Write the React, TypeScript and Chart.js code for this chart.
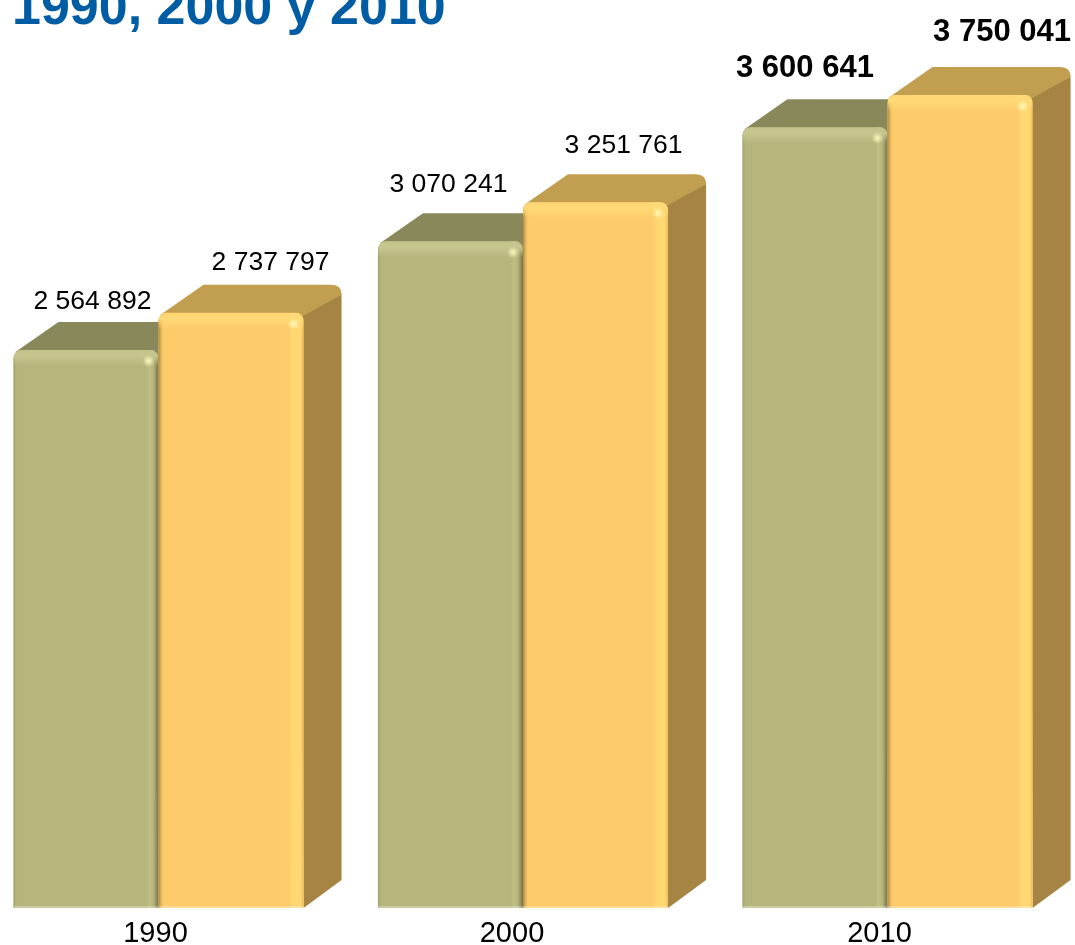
import React, { useEffect, useRef } from "react";
import { Chart, registerables } from "chart.js";

Chart.register(...registerables);

const titleText = "1990, 2000 y 2010";
const categories = ["1990", "2000", "2010"];
const seriesA = [2564892, 3070241, 3600641];
const seriesB = [2737797, 3251761, 3750041];

const yMin = -27900;
const yMax = 4191450;
const FONT = '"Liberation Sans", Arial, sans-serif';
const DEPTH_X = 38;
const DEPTH_Y = 28;

// Label nudges relative to each bar's centre and top
const labelNudgeA = [[6.5, -48], [-2, -57], [-10, -59]];
const labelNudgeB = [[39.5, -50], [28, -57], [42, -63]];
const tickShift = [-3, -11, -8];

const skinA = { front: "#B5B57C", top: "#88885A", side: "#88885A" };
const skinB = { front: "#FDCB6A", top: "#C29E50", side: "#A58444" };
const skins = [skinA, skinB];

const fmt = (v: number) => String(v).replace(/\B(?=(\d{3})+(?!\d))/g, " ");

function draw3D(ctx: CanvasRenderingContext2D, b: any, skin: any) {
  const l = b.x - b.width / 2;
  const r = b.x + b.width / 2;
  const t = b.y;
  const bot = b.base;
  ctx.fillStyle = skin.side;
  ctx.beginPath();
  ctx.moveTo(r - 2, t + 4);
  ctx.lineTo(r + DEPTH_X - 8, t - DEPTH_Y + 2);
  ctx.quadraticCurveTo(r + DEPTH_X, t - DEPTH_Y + 3, r + DEPTH_X, t - DEPTH_Y + 12);
  ctx.lineTo(r + DEPTH_X, bot - DEPTH_Y);
  ctx.lineTo(r, bot);
  ctx.closePath();
  ctx.fill();
  ctx.fillStyle = skin.top;
  ctx.beginPath();
  ctx.moveTo(l + 2, t + 2);
  ctx.lineTo(l + DEPTH_X + 7, t - DEPTH_Y);
  ctx.lineTo(r + DEPTH_X - 10, t - DEPTH_Y);
  ctx.quadraticCurveTo(r + DEPTH_X, t - DEPTH_Y, r + DEPTH_X, t - DEPTH_Y + 10);
  ctx.lineTo(r - 2, t + 4);
  ctx.closePath();
  ctx.fill();
}

function bevel(ctx: CanvasRenderingContext2D, b: any, ds: number) {
  const l = b.x - b.width / 2;
  const r = b.x + b.width / 2;
  const t = b.y;
  const bot = b.base;
  const w = r - l;
  const pct = (px: number) => Math.max(0, Math.min(1, px / w));
  ctx.save();
  ctx.beginPath();
  ctx.roundRect(l, t, w, bot - t, [8, 8, 0, 0]);
  ctx.clip();
  const h = ctx.createLinearGradient(l, 0, r, 0);
  if (ds === 0) {
    h.addColorStop(0, "rgba(150,150,100,0.8)");
    h.addColorStop(pct(4), "rgba(181,181,124,0)");
    h.addColorStop(pct(w - 14), "rgba(181,181,124,0)");
    h.addColorStop(pct(w - 9), "rgba(192,193,132,1)");
    h.addColorStop(pct(w - 5), "rgba(180,180,122,1)");
    h.addColorStop(1, "rgba(115,115,75,1)");
  } else {
    h.addColorStop(0, "rgba(170,130,60,1)");
    h.addColorStop(pct(6), "rgba(253,203,106,0)");
    h.addColorStop(pct(w - 18), "rgba(253,203,106,0)");
    h.addColorStop(pct(w - 11), "rgba(255,216,114,1)");
    h.addColorStop(pct(w - 3), "rgba(255,216,114,1)");
    h.addColorStop(1, "rgba(235,185,90,1)");
  }
  ctx.fillStyle = h;
  ctx.fillRect(l, t, w, bot - t);
  const v = ctx.createLinearGradient(0, t, 0, t + 16);
  const glow = ds === 0 ? "198,198,143" : "255,218,118";
  v.addColorStop(0, `rgba(${glow},0.75)`);
  v.addColorStop(0.35, `rgba(${glow},1)`);
  v.addColorStop(1, `rgba(${glow},0)`);
  ctx.fillStyle = v;
  ctx.fillRect(l, t, w, 16);
  const spot = ctx.createRadialGradient(r - 10, t + 11, 0, r - 10, t + 11, 6);
  spot.addColorStop(0, "rgba(255,250,190,0.95)");
  spot.addColorStop(1, "rgba(255,250,190,0)");
  ctx.fillStyle = spot;
  ctx.fillRect(r - 18, t + 3, 16, 16);
  ctx.fillStyle = "rgba(255,255,255,0.3)";
  ctx.fillRect(l, bot - 2, w, 2);
  ctx.restore();
}

const scenePlugin = {
  id: "scene",
  beforeDraw(chart: any) {
    const items = chart.scales.x.getLabelItems();
    if (chart.$shifted !== items) {
      items.forEach((it: any, i: number) => {
        it.options.translation = [it.options.translation[0] + tickShift[i], it.options.translation[1]];
      });
      chart.$shifted = items;
    }
  },
  beforeDatasetsDraw(chart: any) {
    const ctx = chart.ctx;
    [0, 1].forEach((ds) => {
      chart.getDatasetMeta(ds).data.forEach((b: any) => draw3D(ctx, b, skins[ds]));
    });
  },
  afterDatasetsDraw(chart: any) {
    const ctx = chart.ctx;
    [0, 1].forEach((ds) => {
      chart.getDatasetMeta(ds).data.forEach((b: any) => bevel(ctx, b, ds));
    });
    ctx.save();
    ctx.fillStyle = "#000";
    ctx.textAlign = "center";
    ctx.textBaseline = "middle";
    [seriesA, seriesB].forEach((vals, ds) => {
      const nudges = ds === 0 ? labelNudgeA : labelNudgeB;
      chart.getDatasetMeta(ds).data.forEach((b: any, i: number) => {
        const last = i === categories.length - 1;
        ctx.font = `${last ? "bold 31px" : "26.5px"} ${FONT}`;
        ctx.fillText(fmt(vals[i]), b.x + nudges[i][0], b.y + nudges[i][1]);
      });
    });
    ctx.fillStyle = "#005DA3";
    ctx.font = `bold 52px ${FONT}`;
    ctx.textAlign = "left";
    ctx.textBaseline = "alphabetic";
    ctx.fillText(titleText, 12, 24);
    ctx.restore();
  },
};

export default function App() {
  const ref = useRef<HTMLCanvasElement>(null);
  useEffect(() => {
    const chart = new Chart(ref.current as HTMLCanvasElement, {
      type: "bar",
      data: {
        labels: categories,
        datasets: [
          { data: seriesA, backgroundColor: skinA.front, base: yMin, clip: false, borderRadius: { topLeft: 8, topRight: 8, bottomLeft: 0, bottomRight: 0 }, borderSkipped: false },
          { data: seriesB, backgroundColor: skinB.front, base: yMin, clip: false, borderRadius: { topLeft: 8, topRight: 8, bottomLeft: 0, bottomRight: 0 }, borderSkipped: false },
        ] as any,
      },
      options: {
        responsive: false,
        animation: false,
        layout: { padding: { left: 158.5, right: 187.5, top: 0, bottom: 0 } },
        plugins: { legend: { display: false }, tooltip: { enabled: false }, title: { display: false } },
        datasets: { bar: { categoryPercentage: 0.796, barPercentage: 1 } },
        scales: {
          x: {
            offset: false,
            grid: { display: false },
            border: { display: false },
            afterFit: (s: any) => { s.height = 37; },
            ticks: { color: "#000", font: { family: FONT, size: 29 }, padding: 1, maxRotation: 0, autoSkip: false },
          },
          y: { display: false, min: yMin, max: yMax },
        },
      } as any,
      plugins: [scenePlugin as any],
    });
    return () => chart.destroy();
  }, []);
  return (
    <div style={{ position: "fixed", left: 0, top: 0, width: 1075, height: 945, background: "#fff" }}>
      <canvas ref={ref} width={1075} height={945} style={{ display: "block" }} />
    </div>
  );
}
